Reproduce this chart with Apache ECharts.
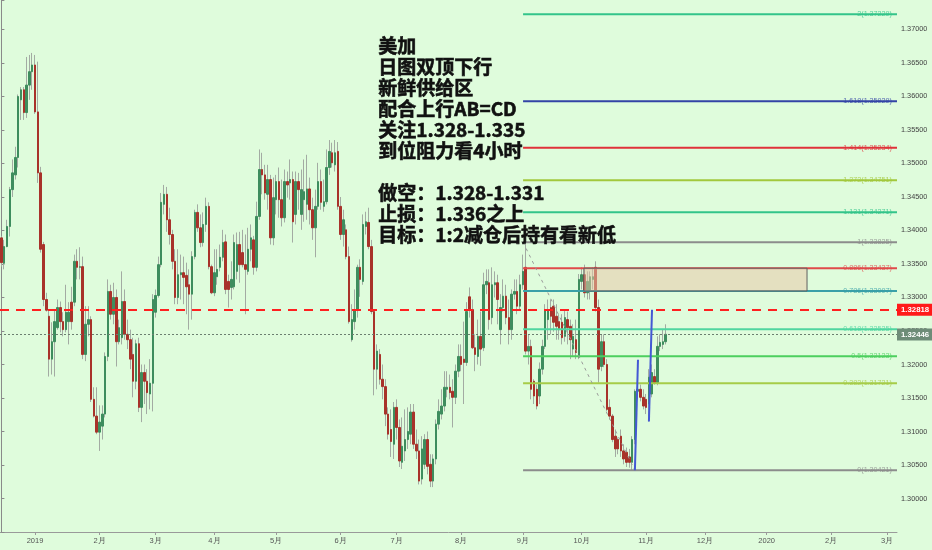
<!DOCTYPE html>
<html>
<head>
<meta charset="utf-8">
<script src="https://cdn.jsdelivr.net/npm/echarts@6/dist/echarts.min.js"></script>
<style>
  html, body { margin: 0; padding: 0; background: #dffcdc; overflow: hidden; }
  #chart { width: 932px; height: 550px; }
</style>
</head>
<body>
<div id="chart"></div>
<script>
// USDCAD daily, [open, close, low, high]
const daily = [
  [1.3389,1.3352,1.3346,1.3392],[1.3351,1.3376,1.3342,1.3386],[1.3376,1.3406,1.3375,1.3416],[1.3406,1.3461,1.3391,1.3465],
  [1.3461,1.3486,1.3450,1.3506],[1.3483,1.3509,1.3476,1.3525],[1.3509,1.3600,1.3494,1.3603],[1.3595,1.3610,1.3565,1.3614],
  [1.3610,1.3576,1.3565,1.3614],[1.3576,1.3617,1.3568,1.3659],[1.3617,1.3637,1.3595,1.3662],[1.3637,1.3647,1.3610,1.3665],
  [1.3647,1.3577,1.3574,1.3662],[1.3577,1.3486,1.3471,1.3652],[1.3486,1.3372,1.3367,1.3495],[1.3379,1.3297,1.3287,1.3383],
  [1.3297,1.3281,1.3279,1.3307],[1.3272,1.3208,1.3182,1.3282],[1.3208,1.3234,1.3185,1.3263],[1.3234,1.3264,1.3182,1.3282],
  [1.3255,1.3285,1.3252,1.3297],[1.3285,1.3264,1.3248,1.3294],[1.3264,1.3252,1.3242,1.3278],[1.3252,1.3278,1.3248,1.3319],
  [1.3264,1.3278,1.3230,1.3293],[1.3293,1.3264,1.3252,1.3316],[1.3293,1.3354,1.3287,1.3364],[1.3354,1.3345,1.3327,1.3372],
  [1.3345,1.3346,1.3327,1.3375],[1.3346,1.3215,1.3208,1.3361],[1.3215,1.3260,1.3205,1.3287],[1.3260,1.3267,1.3242,1.3287],
  [1.3267,1.3148,1.3144,1.3272],[1.3148,1.3123,1.3121,1.3166],[1.3123,1.3099,1.3096,1.3166],[1.3099,1.3114,1.3071,1.3139],
  [1.3108,1.3126,1.3088,1.3139],[1.3126,1.3212,1.3121,1.3218],[1.3212,1.3309,1.3205,1.3327],[1.3309,1.3275,1.3267,1.3319],
  [1.3275,1.3300,1.3260,1.3322],[1.3300,1.3234,1.3197,1.3312],[1.3234,1.3255,1.3230,1.3267],[1.3240,1.3294,1.3230,1.3339],
  [1.3294,1.3245,1.3237,1.3312],[1.3245,1.3237,1.3223,1.3267],[1.3237,1.3208,1.3193,1.3252],[1.3215,1.3175,1.3151,1.3240],
  [1.3175,1.3231,1.3163,1.3237],[1.3231,1.3136,1.3129,1.3240],[1.3136,1.3188,1.3114,1.3200],[1.3188,1.3175,1.3141,1.3200],
  [1.3175,1.3158,1.3126,1.3193],[1.3156,1.3172,1.3133,1.3208],[1.3172,1.3297,1.3130,1.3305],[1.3278,1.3303,1.3270,1.3312],
  [1.3303,1.3349,1.3300,1.3361],[1.3349,1.3442,1.3345,1.3456],[1.3439,1.3454,1.3424,1.3468],[1.3454,1.3416,1.3398,1.3465],
  [1.3416,1.3394,1.3379,1.3434],[1.3394,1.3354,1.3342,1.3401],[1.3354,1.3300,1.3290,1.3372],[1.3300,1.3334,1.3290,1.3372],
  [1.3334,1.3337,1.3297,1.3364],[1.3337,1.3330,1.3290,1.3361],[1.3333,1.3316,1.3275,1.3352],[1.3319,1.3305,1.3252,1.3342],
  [1.3305,1.3361,1.3267,1.3369],[1.3361,1.3427,1.3357,1.3431],[1.3427,1.3404,1.3398,1.3439],[1.3404,1.3382,1.3375,1.3424],
  [1.3382,1.3409,1.3376,1.3427],[1.3409,1.3436,1.3398,1.3449],[1.3436,1.3346,1.3342,1.3442],[1.3346,1.3307,1.3305,1.3349],
  [1.3307,1.3337,1.3302,1.3372],[1.3331,1.3342,1.3319,1.3372],[1.3345,1.3360,1.3339,1.3379],[1.3360,1.3382,1.3354,1.3401],
  [1.3383,1.3312,1.3305,1.3394],[1.3324,1.3312,1.3285,1.3334],[1.3315,1.3327,1.3297,1.3354],[1.3316,1.3382,1.3312,1.3394],
  [1.3339,1.3379,1.3327,1.3397],[1.3379,1.3349,1.3322,1.3398],[1.3367,1.3349,1.3345,1.3401],[1.3349,1.3342,1.3275,1.3394],
  [1.3339,1.3372,1.3334,1.3404],[1.3372,1.3389,1.3354,1.3409],[1.3386,1.3345,1.3334,1.3392],[1.3345,1.3421,1.3339,1.3443],
  [1.3421,1.3491,1.3416,1.3521],[1.3491,1.3483,1.3454,1.3516],[1.3483,1.3456,1.3446,1.3498],[1.3454,1.3476,1.3431,1.3498],
  [1.3476,1.3389,1.3379,1.3483],[1.3389,1.3449,1.3378,1.3479],[1.3446,1.3473,1.3424,1.3483],[1.3473,1.3446,1.3419,1.3494],
  [1.3446,1.3419,1.3406,1.3476],[1.3419,1.3473,1.3412,1.3491],[1.3473,1.3468,1.3449,1.3488],[1.3471,1.3476,1.3446,1.3506],
  [1.3476,1.3413,1.3382,1.3488],[1.3424,1.3473,1.3409,1.3488],[1.3473,1.3461,1.3431,1.3486],[1.3424,1.3461,1.3401,1.3491],
  [1.3446,1.3458,1.3413,1.3506],[1.3439,1.3462,1.3416,1.3513],[1.3462,1.3431,1.3409,1.3479],[1.3431,1.3404,1.3386,1.3449],
  [1.3404,1.3436,1.3360,1.3461],[1.3436,1.3473,1.3431,1.3501],[1.3473,1.3442,1.3431,1.3491],[1.3436,1.3443,1.3428,1.3476],
  [1.3443,1.3494,1.3439,1.3521],[1.3494,1.3518,1.3483,1.3535],[1.3516,1.3501,1.3494,1.3531],[1.3498,1.3516,1.3488,1.3535],
  [1.3518,1.3436,1.3431,1.3532],[1.3436,1.3394,1.3386,1.3450],[1.3394,1.3416,1.3376,1.3431],[1.3401,1.3361,1.3357,1.3409],
  [1.3361,1.3264,1.3261,1.3376],[1.3237,1.3267,1.3234,1.3290],[1.3264,1.3282,1.3252,1.3312],[1.3282,1.3345,1.3270,1.3349],
  [1.3345,1.3327,1.3301,1.3357],[1.3324,1.3409,1.3319,1.3424],[1.3406,1.3413,1.3394,1.3428],[1.3412,1.3376,1.3372,1.3434],
  [1.3376,1.3279,1.3275,1.3386],[1.3279,1.3193,1.3154,1.3282],[1.3193,1.3220,1.3163,1.3230],[1.3215,1.3178,1.3170,1.3223],
  [1.3178,1.3167,1.3148,1.3200],[1.3167,1.3126,1.3108,1.3178],[1.3126,1.3096,1.3088,1.3136],[1.3103,1.3085,1.3062,1.3133],
  [1.3081,1.3136,1.3059,1.3144],[1.3136,1.3106,1.3088,1.3148],[1.3106,1.3056,1.3047,1.3118],[1.3054,1.3078,1.3044,1.3121],
  [1.3071,1.3088,1.3056,1.3133],[1.3088,1.3100,1.3074,1.3136],[1.3096,1.3129,1.3081,1.3141],[1.3129,1.3081,1.3074,1.3141],
  [1.3081,1.3071,1.3059,1.3103],[1.3071,1.3026,1.3021,1.3088],[1.3029,1.3074,1.3021,1.3093],[1.3051,1.3088,1.3044,1.3096],
  [1.3088,1.3048,1.3036,1.3100],[1.3051,1.3026,1.3017,1.3066],[1.3026,1.3059,1.3017,1.3066],[1.3059,1.3111,1.3051,1.3118],
  [1.3111,1.3130,1.3103,1.3148],[1.3126,1.3138,1.3118,1.3163],[1.3138,1.3166,1.3130,1.3190],[1.3163,1.3166,1.3151,1.3190],
  [1.3166,1.3158,1.3148,1.3185],[1.3160,1.3151,1.3106,1.3178],[1.3151,1.3190,1.3141,1.3200],[1.3190,1.3212,1.3181,1.3230],
  [1.3212,1.3200,1.3190,1.3230],[1.3208,1.3203,1.3141,1.3264],[1.3203,1.3279,1.3198,1.3293],[1.3301,1.3282,1.3270,1.3315],
  [1.3282,1.3225,1.3223,1.3297],[1.3225,1.3215,1.3190,1.3245],[1.3212,1.3242,1.3200,1.3267],[1.3242,1.3223,1.3198,1.3279],
  [1.3225,1.3319,1.3220,1.3337],[1.3319,1.3324,1.3305,1.3342],[1.3322,1.3267,1.3252,1.3342],[1.3270,1.3319,1.3260,1.3345],
  [1.3319,1.3322,1.3300,1.3339],[1.3322,1.3297,1.3260,1.3334],[1.3252,1.3285,1.3230,1.3305],[1.3285,1.3302,1.3279,1.3327],
  [1.3302,1.3270,1.3260,1.3319],[1.3270,1.3252,1.3230,1.3297],[1.3252,1.3305,1.3237,1.3312],[1.3305,1.3309,1.3297,1.3327],
  [1.3309,1.3287,1.3275,1.3327],[1.3287,1.3319,1.3282,1.3334],[1.3319,1.3339,1.3312,1.3364],[1.3345,1.3220,1.3215,1.3382],
  [1.3220,1.3227,1.3200,1.3245],[1.3227,1.3163,1.3148,1.3237],[1.3175,1.3153,1.3141,1.3178],[1.3163,1.3138,1.3133,1.3170],
  [1.3153,1.3193,1.3141,1.3203],[1.3193,1.3227,1.3185,1.3237],[1.3227,1.3282,1.3223,1.3290],[1.3267,1.3282,1.3237,1.3297],
  [1.3285,1.3272,1.3245,1.3297],[1.3287,1.3263,1.3249,1.3297],[1.3272,1.3257,1.3237,1.3290],[1.3264,1.3252,1.3237,1.3275],
  [1.3263,1.3240,1.3230,1.3275],[1.3242,1.3270,1.3234,1.3282],[1.3267,1.3255,1.3230,1.3279],[1.3257,1.3237,1.3208,1.3267],
  [1.3223,1.3242,1.3212,1.3260],[1.3237,1.3218,1.3208,1.3267],[1.3211,1.3327,1.3208,1.3335],[1.3324,1.3334,1.3312,1.3345],
  [1.3334,1.3307,1.3300,1.3349],[1.3307,1.3324,1.3297,1.3339],[1.3309,1.3331,1.3297,1.3339],[1.3327,1.3331,1.3312,1.3345],
  [1.3345,1.3285,1.3279,1.3354],[1.3285,1.3193,1.3173,1.3297],[1.3197,1.3234,1.3190,1.3245],[1.3234,1.3200,1.3196,1.3245],
  [1.3200,1.3133,1.3130,1.3208],[1.3136,1.3123,1.3118,1.3148],[1.3123,1.3088,1.3084,1.3126],[1.3093,1.3074,1.3062,1.3103],
  [1.3088,1.3074,1.3066,1.3091],[1.3093,1.3071,1.3062,1.3103],[1.3071,1.3059,1.3051,1.3081],[1.3069,1.3054,1.3047,1.3076],
  [1.3062,1.3054,1.3046,1.3074],[1.3054,1.3088,1.3042,1.3093],[1.3088,1.3160,1.3081,1.3163],[1.3160,1.3163,1.3148,1.3170],
  [1.3163,1.3151,1.3145,1.3170],[1.3151,1.3138,1.3133,1.3163],[1.3148,1.3136,1.3126,1.3156],[1.3141,1.3181,1.3115,1.3193],
  [1.3156,1.3188,1.3151,1.3200],[1.3182,1.3173,1.3170,1.3193],[1.3173,1.3227,1.3169,1.3242],[1.3227,1.3233,1.3220,1.3245],
  [1.3230,1.3234,1.3223,1.3252],[1.3234,1.3245,1.3230,1.3260]
];

const startDay = '2018-12-14';
const barCount = 320;
const tickIdx = [12, 35, 55, 76, 98, 121, 141, 164, 186, 207, 230, 251, 273, 296, 316];
const tickLabels = ['2019', '2月', '3月', '4月', '5月', '6月', '7月', '8月', '9月', '10月', '11月', '12月', '2020', '2月', '3月'];

const fibRatios = ['2', '1.618', '1.414', '1.272', '1.131', '1', '0.886', '0.786', '0.618', '0.5', '0.382', '0'];
const fibPrices = [1.37229, 1.35929, 1.35234, 1.34751, 1.34271, 1.33825, 1.33437, 1.33097, 1.32525, 1.32123, 1.31721, 1.30421];
const fibColors = ['#33c48a', '#3343a6', '#e0323a', '#a2c83c', '#33c48a', '#8c8c8c', '#e04a4a', '#3aa0a8', '#4fd6a0', '#4ccf5e', '#a6cc48', '#8c8c8c'];
const fibFrom = 186.1;   // bar where the fib tool starts
const chartEnd = 319.5;  // right edge in bar units

const swingLine = [[186.1, 1.33825], [226.0, 1.30421]];
const abLeg = [[226.0, 1.30421], [227.1, 1.3207]];
const cdLeg = [[231.0, 1.3115], [232.1, 1.32818]];
const zoneBox = [207.8, 1.33437, 287.4, 1.33097];
const entryLevel = 1.32818;
const lastPrice = 1.32446;

const notes = ['美加', '日图双顶下行', '新鲜供给区', '配合上行AB=CD', '关注1.328-1.335', '到位阻力看4小时', '',
  '做空：1.328-1.331', '止损：1.336之上', '目标：1:2减仓后持有看新低'];

// weekday calendar for the category axis
const dates = [];
for (let d = new Date(startDay + 'T00:00:00Z'); dates.length < barCount; d.setUTCDate(d.getUTCDate() + 1)) {
  const w = d.getUTCDay();
  if (w !== 0 && w !== 6) dates.push(d.toISOString().slice(0, 10));
}
const bodies = daily.map(c => [c[0], c[1], Math.min(c[0], c[1]), Math.max(c[0], c[1])]);

const axisFont = "'Liberation Sans', Arial, sans-serif";

let series = [
  {
    name: 'wick', type: 'candlestick', data: daily, barWidth: 1, z: 2, silent: true,
    itemStyle: { color: '#a3aba3', color0: '#a3aba3', borderColor: '#a3aba3', borderColor0: '#a3aba3', borderWidth: 1 }
  },
  {
    name: 'body', type: 'candlestick', data: bodies, barWidth: 2, z: 3, silent: true,
    itemStyle: { color: '#3e8d5e', color0: '#a8322a', borderColor: '#3e8d5e', borderColor0: '#a8322a', borderWidth: 1 },
    markLine: {
      silent: true, symbol: 'none', precision: 5,
      data: [
        {
          yAxis: entryLevel,
          lineStyle: { color: '#ff2020', width: 2, type: [9, 7] },
          label: { show: true, position: 'end', distance: 0, formatter: '1.32818', color: '#fff', backgroundColor: '#ff1a1a',
                   padding: [2, 3, 2, 4], fontSize: 7.8, fontWeight: 'bold', fontFamily: axisFont }
        },
        {
          yAxis: lastPrice,
          lineStyle: { color: '#6b7f6f', width: 1, type: [2, 2] },
          label: { show: true, position: 'end', distance: 0, formatter: '1.32446', color: '#fff', backgroundColor: '#6e8c78',
                   padding: [2, 3, 2, 4], fontSize: 7.8, fontWeight: 'bold', fontFamily: axisFont }
        }
      ]
    }
  }
];

fibPrices.forEach((p, k) => {
  series.push({
    type: 'line', xAxisIndex: 1, z: 4, silent: true, symbol: 'none',
    data: [[fibFrom, p], [chartEnd, p]],
    lineStyle: { color: fibColors[k], width: 2 }
  });
});

series.push({
  type: 'scatter', xAxisIndex: 1, z: 5, silent: true, symbolSize: 0,
  data: fibPrices.map((p, k) => ({
    value: [chartEnd, p],
    label: { color: fibColors[k], formatter: fibRatios[k] + '(' + p.toFixed(5) + ')' }
  })),
  label: { show: true, position: 'left', distance: 5, fontSize: 7.2, fontFamily: axisFont }
});

// supply zone rectangle, drawn over the candles like the original drawing tool
series.push({
  type: 'custom', xAxisIndex: 1, z: 7, silent: true,
  data: [zoneBox],
  renderItem: (params, api) => {
    const a = api.coord([api.value(0), api.value(1)]);
    const b = api.coord([api.value(2), api.value(3)]);
    return {
      type: 'rect',
      shape: { x: a[0], y: a[1], width: b[0] - a[0], height: b[1] - a[1] },
      style: { fill: 'rgba(232,200,170,0.55)', stroke: '#5f5f5f', lineWidth: 1 }
    };
  }
});

series.push(
  { type: 'line', xAxisIndex: 1, z: 4, silent: true, symbol: 'none', data: swingLine,
    lineStyle: { color: '#9a9a9a', width: 1, type: [3, 4] } },
  { type: 'line', xAxisIndex: 1, z: 6, silent: true, symbol: 'none', data: abLeg,
    lineStyle: { color: '#4458d4', width: 2 } },
  { type: 'line', xAxisIndex: 1, z: 6, silent: true, symbol: 'none', data: cdLeg,
    lineStyle: { color: '#4458d4', width: 2 } }
);

const chart = echarts.init(document.getElementById('chart'));
chart.setOption({
  animation: false,
  backgroundColor: '#dffcdc',
  grid: { left: 0, right: 35, top: 0, bottom: 18, containLabel: false, outerBoundsMode: 'none' },
  xAxis: [
    {
      type: 'category', data: dates, boundaryGap: true,
      axisLine: { show: true, lineStyle: { color: '#9a9a9a' } },
      axisTick: { show: true, length: 3, interval: i => tickIdx.includes(i), alignWithLabel: true, lineStyle: { color: '#9a9a9a' } },
      axisLabel: {
        interval: i => tickIdx.includes(i), margin: 5, fontSize: 7.5, color: '#555', fontFamily: axisFont,
        formatter: (v, i) => tickLabels[tickIdx.indexOf(i)] || ''
      },
      splitLine: { show: false }
    },
    { type: 'value', min: -0.5, max: chartEnd, show: false }
  ],
  yAxis: {
    type: 'value', position: 'right', min: 1.295, max: 1.3744, interval: 0.005,
    splitLine: { show: false },
    axisLine: { show: true, lineStyle: { color: '#8a8a8a' } },
    axisTick: { show: true, length: 3, lineStyle: { color: '#8a8a8a' } },
    axisLabel: {
      margin: 4, fontSize: 7.3, color: '#444', fontFamily: axisFont,
      formatter: v => {
        const k = v / 0.005;
        return (Math.abs(k - Math.round(k)) < 1e-6 && v > 1.2999) ? v.toFixed(5) : '';
      }
    }
  },
  graphic: [{
    type: 'text', left: 378, top: 35, z: 100,
    style: {
      text: notes.join('\n'), fill: '#111', fontSize: 19, fontWeight: 'bold', lineHeight: 21,
      fontFamily: "'Noto Sans CJK SC', sans-serif", stroke: '#111', lineWidth: 0.6
    }
  }],
  series: series
});
</script>
</body>
</html>
